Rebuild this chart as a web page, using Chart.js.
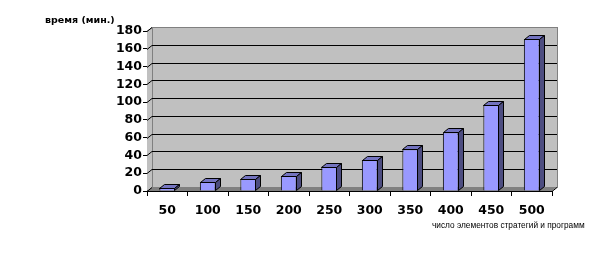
<!DOCTYPE html>
<html>
<head>
<meta charset="utf-8">
<script src="https://cdn.jsdelivr.net/npm/chart.js@4/dist/chart.umd.min.js"></script>
<style>
  html, body { margin: 0; padding: 0; background: #ffffff; }
  #wrap { width: 609px; height: 258px; }
</style>
</head>
<body>
<div id="wrap"><canvas id="timeChart" width="609" height="258"></canvas></div>
<script>
// число элементов -> время расчёта (мин.)
const categories = ['50', '100', '150', '200', '250', '300', '350', '400', '450', '500'];
const timeValues = [3.5, 10.5, 13.5, 17, 27.5, 35, 47, 66, 97, 171];
const yMax = 180;
const yStep = 20;

const yCaption = 'время (мин.)';
const xCaption = 'число элементов стратегий и программ';

// 3d depth offset
const DX = 5;
const DY = -4;

const wallPlugin = {
    id: 'wall3d',
    beforeDatasetsDraw(chart) {
        const { ctx, chartArea } = chart;
        const { left, right, top, bottom } = chartArea;
        const yScale = chart.scales.y;
        ctx.save();

        // side wall
        ctx.fillStyle = '#c0c0c0';
        ctx.strokeStyle = '#808080';
        ctx.lineWidth = 1;
        ctx.beginPath();
        ctx.moveTo(left, top);
        ctx.lineTo(left + DX, top + DY);
        ctx.lineTo(left + DX, bottom + DY);
        ctx.lineTo(left, bottom);
        ctx.closePath();
        ctx.fill();

        // back wall
        ctx.fillRect(left + DX, top + DY, right - left, bottom - top);
        ctx.strokeRect(left + DX + 0.5, top + DY + 0.5, right - left, bottom - top);

        // floor
        ctx.fillStyle = '#808080';
        ctx.beginPath();
        ctx.moveTo(left, bottom);
        ctx.lineTo(left + DX, bottom + DY);
        ctx.lineTo(right + DX, bottom + DY);
        ctx.lineTo(right, bottom);
        ctx.closePath();
        ctx.fill();

        // side wall top edge
        ctx.strokeStyle = '#808080';
        ctx.beginPath();
        ctx.moveTo(left, top + 0.5);
        ctx.lineTo(left + DX, top + DY + 0.5);
        ctx.stroke();

        // grid lines on back wall + diagonals on side wall
        ctx.strokeStyle = '#000000';
        yScale.ticks.forEach(t => {
            const py = Math.round(yScale.getPixelForValue(t.value)) + 0.5;
            if (t.value !== 0 && t.value !== yMax) {
                ctx.beginPath();
                ctx.moveTo(left + DX, py + DY);
                ctx.lineTo(right + DX, py + DY);
                ctx.stroke();
            }
            ctx.beginPath();
            ctx.moveTo(left, py);
            ctx.lineTo(left + DX, py + DY);
            ctx.stroke();
        });
        ctx.beginPath();
        ctx.moveTo(right, bottom + 0.5);
        ctx.lineTo(right + DX, bottom + DY + 0.5);
        ctx.stroke();

        ctx.restore();
    },
    afterDatasetsDraw(chart) {
        const { ctx } = chart;
        const meta = chart.getDatasetMeta(0);
        ctx.save();
        ctx.strokeStyle = '#000000';
        ctx.lineWidth = 1;
        ctx.lineJoin = 'round';
        meta.data.forEach(bar => {
            const { x, y, base, width } = bar.getProps(['x', 'y', 'base', 'width'], true);
            const l = Math.round(x - width / 2) + 0.5;
            const r = Math.round(x + width / 2) - 0.5;
            const t = Math.round(y) + 0.5;
            const b = Math.round(base) - 0.5;

            // top face
            ctx.fillStyle = '#7373bf';
            ctx.beginPath();
            ctx.moveTo(l, t);
            ctx.lineTo(l + DX, t + DY);
            ctx.lineTo(r + DX, t + DY);
            ctx.lineTo(r, t);
            ctx.closePath();
            ctx.fill();
            ctx.stroke();

            // side face
            ctx.fillStyle = '#4d4d80';
            ctx.beginPath();
            ctx.moveTo(r, t);
            ctx.lineTo(r + DX, t + DY);
            ctx.lineTo(r + DX, b + DY);
            ctx.lineTo(r, b);
            ctx.closePath();
            ctx.fill();
            ctx.stroke();
        });
        ctx.restore();
    }
};

const captionPlugin = {
    id: 'captions',
    afterDraw(chart) {
        const { ctx } = chart;
        ctx.save();
        ctx.fillStyle = '#000000';
        ctx.textBaseline = 'middle';
        ctx.textAlign = 'left';
        ctx.font = 'bold 9.5px "DejaVu Sans"';
        ctx.fillText(yCaption, 45, 21);
        ctx.font = '8.3px "Liberation Sans"';
        ctx.fillText(xCaption, 432, 226);
        ctx.restore();
    }
};

new Chart(document.getElementById('timeChart'), {
    type: 'bar',
    data: {
        labels: categories,
        datasets: [{
            data: timeValues,
            backgroundColor: '#9999ff',
            borderColor: '#000000',
            borderWidth: 1,
            barPercentage: 0.39,
            categoryPercentage: 1.0
        }]
    },
    options: {
        responsive: false,
        animation: false,
        devicePixelRatio: 1,
        layout: { padding: { top: 31, right: 57, left: 0, bottom: 0 } },
        plugins: {
            legend: { display: false },
            tooltip: { enabled: false }
        },
        scales: {
            x: {
                afterFit: s => { s.height = 67; },
                grid: { drawOnChartArea: false, color: '#000000', tickLength: 5 },
                border: { color: '#000000' },
                ticks: {
                    color: '#000000',
                    padding: 7,
                    maxRotation: 0,
                    autoSkip: false,
                    font: { family: '"DejaVu Sans"', size: 12.5, weight: 'bold' }
                }
            },
            y: {
                min: 0,
                max: yMax,
                afterFit: s => { s.width = 147; },
                grid: { drawOnChartArea: false, color: '#000000', tickLength: 4 },
                border: { color: '#000000' },
                ticks: {
                    stepSize: yStep,
                    autoSkip: false,
                    color: '#000000',
                    padding: 1,
                    font: { family: '"DejaVu Sans"', size: 12.5, weight: 'bold' }
                }
            }
        }
    },
    plugins: [wallPlugin, captionPlugin]
});
</script>
</body>
</html>
